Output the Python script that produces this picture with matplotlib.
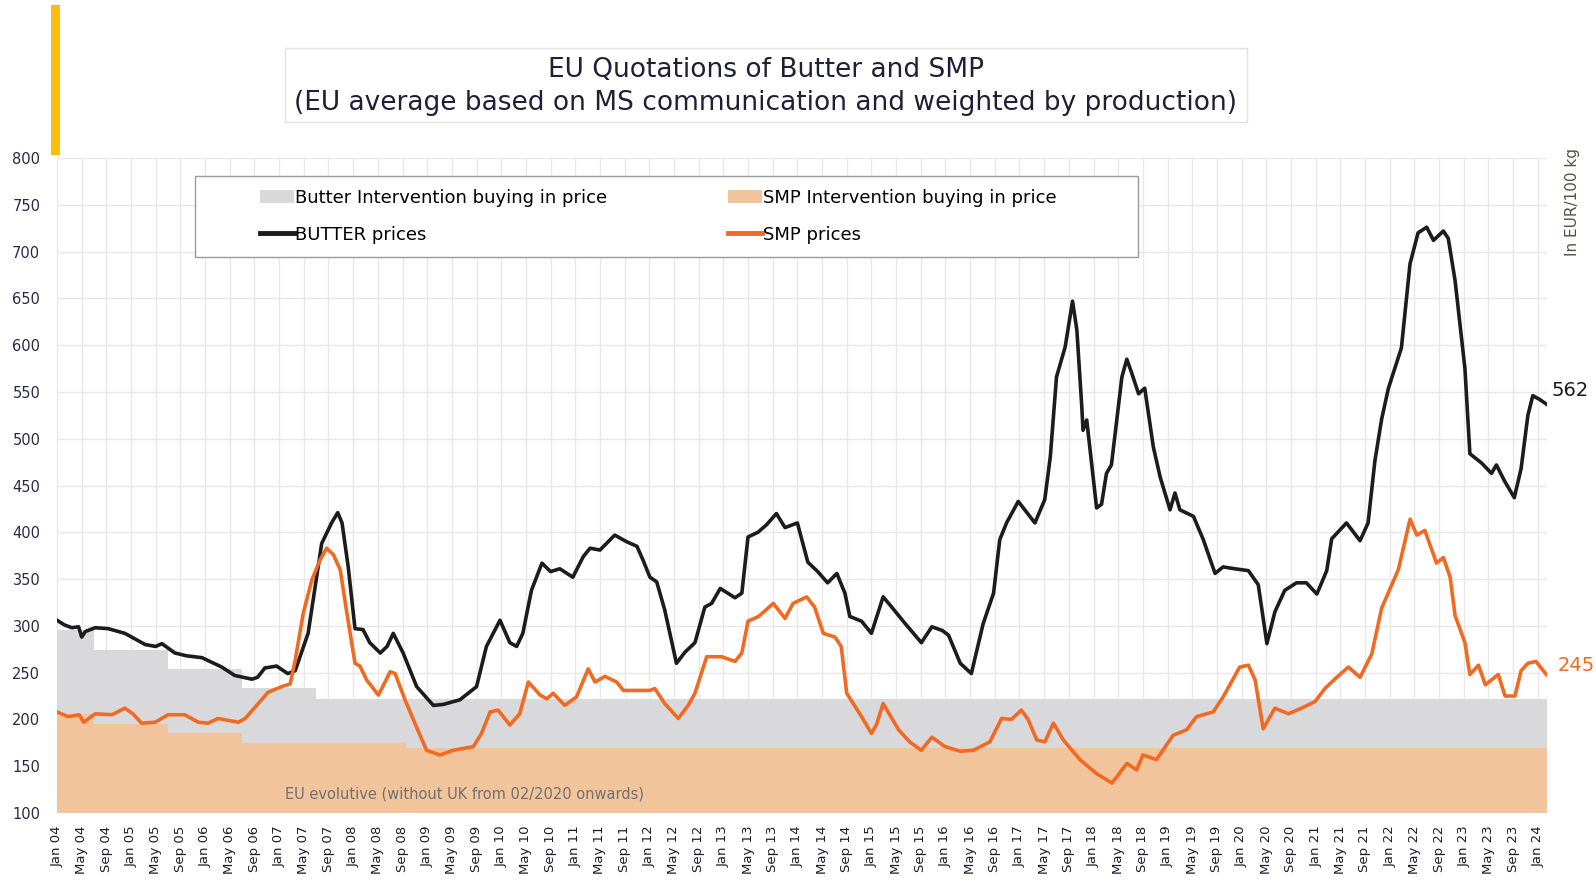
import matplotlib
matplotlib.use("Agg")

import matplotlib.pyplot as plt
from matplotlib.patches import Rectangle, Shadow, Patch
from matplotlib.lines import Line2D

# months since Jan 2004
butter_m = [0, 1.2, 2.4, 3.5, 4.0, 4.6, 6.2, 8.3, 11, 14.3, 16.0, 17, 19.1, 21, 23.5,
            26.7, 28.8, 31.6, 32.5, 33.7, 35.6, 37.4, 38.6, 40.7, 42.9, 44.5, 45.5,
            46.2, 47.2, 48.3, 49.6, 50.7, 52.4, 53.5, 54.5, 56.1, 58.3, 61, 62.6,
            65.3, 68, 69.6, 71.8, 73.4, 74.5, 75.5, 76.9, 78.6, 80, 81.5, 83.6, 85.3,
            86.4, 88, 90.4, 92.3, 94, 95, 96.1, 97.2, 98.5, 100.4, 101.8, 103.4, 105,
            106.1, 107.5, 109.9, 111, 112, 113.6, 115, 116.6, 118, 120, 121.7, 123.3,
            124.9, 126.4, 127.7, 128.5, 130.4, 132, 133.9, 135.3, 137.4, 140.1, 141.8,
            143.5, 144.5, 146.4, 148.2, 150.1, 151.8, 152.8, 153.9, 155.8, 158.5,
            160.1, 161, 162, 163.4, 164.6, 165.3, 166.1, 166.3, 166.9, 168.5, 169.3,
            170.1, 170.9, 171.7, 172.6, 173.4, 174.2, 175.3, 176.3, 177.7, 178.8,
            180.4, 181.2, 182.0, 184.2, 185.8, 187.7, 189, 190.9, 193.1, 194.7, 196.1,
            197.4, 199.0, 200.9, 202.5, 204.2, 205.8, 206.6, 209.0, 211.2, 212.5,
            213.6, 214.7, 215.8, 217.9, 219.3, 220.6, 222, 223.1, 224.7, 225.5, 226.6,
            228.2, 229.0, 230.9, 232.5, 233.3, 234.6, 236.2, 237.3, 238.4, 239.2,
            240.3, 241.4]
butter_v = [306, 301, 298, 299, 288, 294, 298, 297, 292, 280, 278, 281, 271, 268, 266,
            256, 247, 243, 245, 255, 257, 249, 252, 292, 388, 410, 421,
            410, 363, 297, 296, 282, 271, 278, 292, 271, 235, 215, 216,
            221, 235, 278, 306, 282, 278, 292, 338, 367, 358, 361, 352, 374,
            383, 381, 397, 390, 385, 370, 352, 347, 317, 260, 272, 282, 320,
            324, 340, 330, 335, 395, 400, 408, 420, 405, 410, 368, 358,
            346, 356, 335, 310, 305, 292, 331, 320, 303, 282, 299,
            295, 290, 260, 249, 302, 335, 392, 410, 433, 410,
            435, 481, 566, 598, 647, 616, 534, 509, 520, 426, 430,
            463, 472, 516, 566, 585, 570, 548, 554, 491, 459,
            424, 442, 424, 417, 392, 356, 363, 361, 359, 344, 281,
            315, 338, 346, 346, 334, 359, 393, 410, 391, 410,
            476, 521, 554, 597, 687, 720, 726, 712, 722, 714, 669,
            575, 484, 474, 463, 472, 455, 437, 468, 525, 546,
            542, 537]

smp_m = [0, 1.8, 3.6, 4.3, 6.2, 8.9, 11, 12.3, 13.7, 15.9, 18, 20.7, 22.9, 24.5, 26.1,
         29.4, 30.5, 32.1, 34.2, 36.4, 37.8, 38.6, 39.9, 41.3, 42.6, 43.7, 44.8, 45.9,
         47, 48.3, 49.1, 50.2, 52.1, 54, 54.8, 56.4, 58, 59.9, 62.1, 64.2, 67.5, 68.8,
         70.2, 71.5, 73.4, 75, 76.4, 78.3, 79.4, 80.4, 82.3, 84.2, 86.1, 87.2, 88.8,
         90.7, 91.8, 96.1, 96.9, 98.5, 100.7, 102.3, 103.4, 105.3, 107.7, 109.9, 111,
         112, 113.7, 116.1, 118, 119.3, 121.5, 122.8, 124.2, 126.1, 127.1, 128, 130.4,
         132, 132.8, 133.9, 136.4, 138.2, 140.1, 141.8, 143.9, 146.4, 148.5, 151.2,
         153.1, 154.7, 156.3, 157.4, 158.8, 160.1, 161.5, 163.1, 165.8, 168.5, 171,
         173.4, 175, 176, 178.2, 180.9, 183.1, 184.7, 187.4, 189, 191.7, 193.1, 194.2,
         195.5, 197.4, 199.6, 201.7, 203.9, 205.5, 207.1, 209.3, 211.2, 213.1, 214.7,
         217.4, 219.3, 220.4, 221.7, 223.6, 224.7, 225.8, 226.6, 228.2, 229, 230.4,
         231.5, 233.6, 234.7, 236.3, 237.3, 238.4, 239.7, 241.4]
smp_v = [208, 203, 205, 197, 206, 205, 212, 206, 196, 197, 205, 205, 197, 196, 201,
         197, 201, 213, 229, 235, 238, 263, 313, 349, 370, 383, 376, 360,
         313, 260, 257, 242, 226, 251, 249, 221, 196, 167, 162, 167, 171, 185,
         208, 210, 194, 206, 240, 226, 222, 228, 215, 224, 254, 240, 246,
         240, 231, 231, 233, 217, 201, 215, 228, 267, 267, 262, 271,
         305, 310, 324, 308, 324, 331, 320, 292, 288, 278, 228, 203,
         185, 194, 217, 189, 176, 167, 181, 171, 166, 167, 176,
         201, 200, 210, 200, 178, 176, 196, 178, 157, 142, 132,
         153, 146, 162, 157, 183, 189, 203, 208, 224, 256, 258, 242,
         190, 212, 206, 212, 219, 233, 243, 256, 245, 270, 319,
         360, 414, 397, 402, 367, 373, 352, 311, 282, 248, 258,
         237, 248, 225, 225, 252, 260, 262, 248]

# intervention buying-in prices (step changes)
butter_int_m = [0, 6, 18, 30, 42, 241.5]
butter_int_v = [295.38, 274.71, 254.20, 233.57, 221.75, 221.75]
smp_int_m = [0, 6, 18, 30, 56.5, 241.5]
smp_int_v = [205.52, 195.24, 184.97, 174.69, 169.80, 169.80]

tick_months = ["Jan", "May", "Sep"]
tick_labels = []
for yr in range(4, 24):
    for mo in tick_months:
        tick_labels.append("%s %02d" % (mo, yr))
tick_labels.append("Jan 24")

BLACK = "#1c1c1c"
ORANGE = "#f26a22"
GREY_FILL = "#d9d9db"
PEACH_FILL = "#f2c49c"

fig = plt.figure(figsize=(15.96, 8.86), dpi=100)
ax = fig.add_axes([57 / 1596, 1 - 813 / 886, 1490 / 1596, 655 / 886])

ax.fill_between(butter_int_m, 100, butter_int_v, step="post", color=GREY_FILL, lw=0, zorder=1)
ax.fill_between(smp_int_m, 100, smp_int_v, step="post", color=PEACH_FILL, lw=0, zorder=2)
ax.plot(butter_m, butter_v, color=BLACK, lw=2.6, zorder=4)
ax.plot(smp_m, smp_v, color=ORANGE, lw=2.6, zorder=4)

ax.set_xlim(0, 241.5)
ax.set_ylim(100, 800)
ax.set_xticks(range(0, 241, 4))
ax.set_xticklabels(tick_labels, rotation=90, fontsize=9.5, color="#1c1c2c")
ax.set_yticks(range(100, 801, 50))
ax.set_yticklabels([str(v) for v in range(100, 801, 50)], fontsize=10.5, color="#2a2a48")
ax.tick_params(length=0)
ax.tick_params(axis="y", pad=12)
ax.tick_params(axis="x", pad=9)
for s in ax.spines.values():
    s.set_visible(False)
ax.grid(True, color="#e8e8e8", lw=1)
ax.set_axisbelow(True)

ax.text(37, 116, "EU evolutive (without UK from 02/2020 onwards)", fontsize=10.5,
        color="#707070", zorder=5)

ax.text(242.3, 552, "562", fontsize=14, color=BLACK,
        va="center", ha="left", clip_on=False)
ax.text(243.3, 258, "245", fontsize=14, color=ORANGE,
        va="center", ha="left", clip_on=False)

# legend frame with shadow
frame = Rectangle((0.0926, 0.849), 0.6329, 0.1235, transform=ax.transAxes,
                  fc="white", ec="#9a9a9a", lw=1, zorder=6)
ax.add_artist(Shadow(frame, 2.5, -2.5, color="#111111", zorder=5.9))
ax.add_artist(frame)

h1 = [Patch(fc=GREY_FILL, ec="none"), Line2D([], [], color=BLACK, lw=3.5)]
l1 = ["Butter Intervention buying in price", "BUTTER prices"]
h2 = [Patch(fc=PEACH_FILL, ec="none"), Line2D([], [], color=ORANGE, lw=3.5)]
l2 = ["SMP Intervention buying in price", "SMP prices"]
leg_kw = dict(loc="upper left", frameon=False, borderpad=0, borderaxespad=0,
              handlelength=1.9, handletextpad=0.05, labelspacing=1.05,
              prop={"size": 13})
leg1 = ax.legend(h1, l1, bbox_to_anchor=(0.136, 0.953), **leg_kw)
leg1.set_zorder(7)
ax.add_artist(leg1)
leg2 = ax.legend(h2, l2, bbox_to_anchor=(0.450, 0.953), **leg_kw)
leg2.set_zorder(7)

# title box with shadow
tbox = Rectangle((285 / 1596, 1 - 122 / 886), 962 / 1596, 74 / 886,
                 transform=fig.transFigure, fc="white", ec="#e2e2e2", lw=1, zorder=2)
fig.add_artist(Shadow(tbox, 2, -2, color="#bbbbbb", zorder=1.9))
fig.add_artist(tbox)
fig.text(766 / 1596, 1 - 86 / 886,
         "EU Quotations of Butter and SMP\n(EU average based on MS communication and weighted by production)",
         ha="center", va="center", fontsize=19, color="#1f1f38", linespacing=1.35, zorder=3)

# yellow accent bar
fig.add_artist(Rectangle((51 / 1596, 1 - 155 / 886), 9 / 1596, 150 / 886,
                         transform=fig.transFigure, fc="#fdbd0b", ec="none"))

fig.text(1573 / 1596, 1 - 202 / 886, "In EUR/100 kg", rotation=90, ha="center",
         va="center", fontsize=11, color="#5a5040")

fig.savefig("out.png", dpi=100)
